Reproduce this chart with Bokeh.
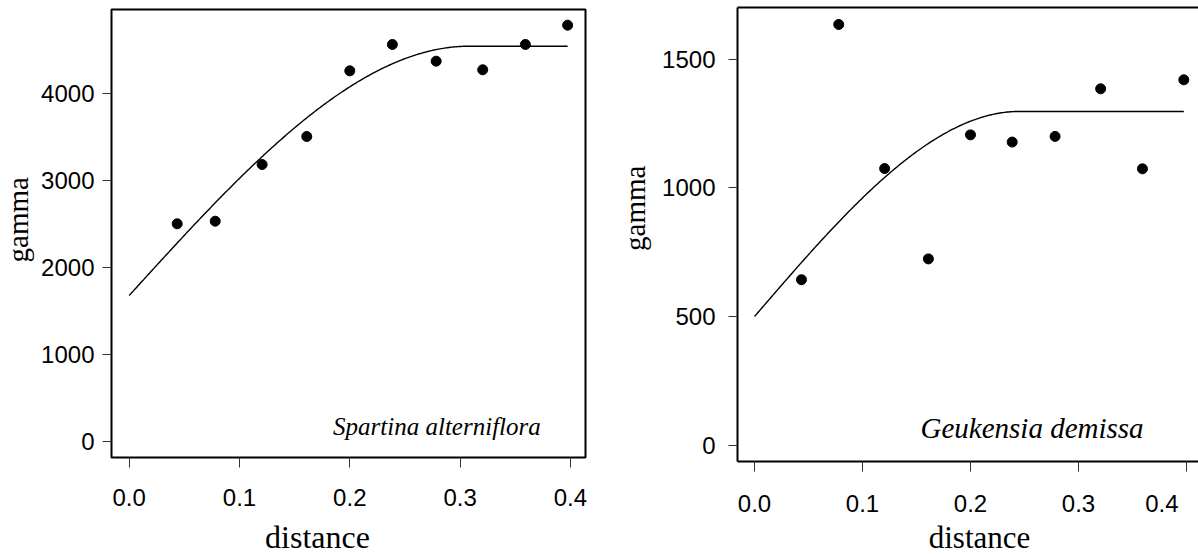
import numpy as np
from bokeh.plotting import figure
from bokeh.layouts import row, column
from bokeh.models import FixedTicker, PrintfTickFormatter, Label, LinearAxis, Range1d
from bokeh.core.properties import value
from bokeh.embed import file_html
from bokeh.resources import INLINE

# ---- data ----
distance = [0.0435, 0.078, 0.1205, 0.161, 0.2, 0.2386, 0.2783, 0.3205, 0.3592, 0.3975]
gamma_spartina = [2499, 2529, 3180, 3502, 4257, 4560, 4368, 4269, 4560, 4782]
gamma_geukensia = [643, 1635, 1075, 724, 1206, 1178, 1200, 1385, 1074, 1420]

# fitted spherical variogram models: nugget, sill, range
spartina_nugget, spartina_sill, spartina_range = 1675, 4540, 0.308
geukensia_nugget, geukensia_sill, geukensia_range = 500, 1297, 0.245

x_ticks = [0.0, 0.1, 0.2, 0.3, 0.4]
y_ticks_spartina = [0, 1000, 2000, 3000, 4000]
y_ticks_geukensia = [0, 500, 1000, 1500]

species_left = "Spartina alterniflora"
species_right = "Geukensia demissa"
x_label = "distance"
y_label = "gamma"


def spherical(h, nugget, sill, a):
    h = np.asarray(h, dtype=float)
    r = np.minimum(h / a, 1.0)
    return nugget + (sill - nugget) * (1.5 * r - 0.5 * r ** 3)


SANS = "Liberation Sans"
SERIF = "Liberation Serif"
PLOT_H = 520      # height of each plot figure
STRIP_H = 34      # height of the strip holding the x-axis title


def style_axes(p, x_standoff, y_standoff):
    p.grid.visible = False
    for ax in p.axis:
        ax.major_tick_in = 0
        ax.minor_tick_in = 0
        ax.minor_tick_out = 0
        ax.major_tick_line_color = "#333333"
        ax.major_tick_line_width = 1
        ax.major_label_text_font = SANS
        ax.major_label_text_font_size = "24px"
        ax.major_label_text_color = "black"
    p.xaxis.major_tick_out = 10
    p.yaxis.major_tick_out = 9
    p.xaxis.major_label_standoff = x_standoff
    p.yaxis.major_label_standoff = y_standoff
    p.xaxis.ticker = FixedTicker(ticks=x_ticks)
    p.xaxis.formatter = PrintfTickFormatter(format="%.1f")


def text_strip(width, height, x, y, text, size, angle=0.0):
    s = figure(width=width, height=height, output_backend="svg", toolbar_location=None,
               x_range=Range1d(0, width), y_range=Range1d(0, height),
               x_axis_type=None, y_axis_type=None,
               min_border_left=0, min_border_right=0, min_border_top=0, min_border_bottom=0)
    s.outline_line_color = None
    s.grid.visible = False
    s.text(x=[x], y=[y], text=[text], angle=angle, text_align="center",
           text_baseline="alphabetic", text_font=value(SERIF),
           text_font_size=value(size), text_color="black")
    return s


curve_h = np.linspace(0, max(distance), 300)

# ---------------- left panel ----------------
p1 = figure(width=565, height=PLOT_H, output_backend="svg", toolbar_location=None,
            x_range=Range1d(-0.01605, 0.4137), y_range=Range1d(-187, 4962),
            min_border_left=76, min_border_right=15, min_border_top=9, min_border_bottom=63)
p1.outline_line_color = "black"
p1.outline_line_width = 2
p1.outline_line_alpha = 1.0
style_axes(p1, 21, 8)
p1.axis.axis_line_color = None
p1.yaxis.ticker = FixedTicker(ticks=y_ticks_spartina)

p1.line(curve_h, spherical(curve_h, spartina_nugget, spartina_sill, spartina_range),
        line_color="black", line_width=1.4)
p1.scatter(distance, gamma_spartina, size=10, color="black")
p1.add_layout(Label(x=0.279, y=172, text=species_left, text_align="center",
                    text_baseline="alphabetic", text_font=SERIF, text_font_style="italic",
                    text_font_size="25px", text_color="black"))

g1 = text_strip(35, PLOT_H, 17, 276, y_label, "29px", np.pi / 2)
d1 = text_strip(600, STRIP_H, 317, 18, x_label, "32px")
left_block = column(row(g1, p1), d1)

# ---------------- right panel ----------------
p2 = figure(width=546, height=PLOT_H, output_backend="svg", toolbar_location=None,
            x_range=Range1d(-0.01574, 0.4111), y_range=Range1d(-63.4, 1701),
            min_border_left=85, min_border_right=0, min_border_top=7, min_border_bottom=59)
p2.outline_line_color = None
style_axes(p2, 18, 13)
p2.axis.axis_line_color = "black"
p2.axis.axis_line_width = 2
p2.yaxis.ticker = FixedTicker(ticks=y_ticks_geukensia)
p2.xaxis.major_label_overrides = {0.4: "0.4\u00a0\u00a0\u00a0"}

top_axis = LinearAxis(ticker=FixedTicker(ticks=[]), axis_line_color="black", axis_line_width=2,
                      major_tick_out=0, major_tick_in=0, minor_tick_out=0, minor_tick_in=0,
                      major_label_standoff=0, major_label_text_font_size="0px")
p2.add_layout(top_axis, "above")

p2.line(curve_h, spherical(curve_h, geukensia_nugget, geukensia_sill, geukensia_range),
        line_color="black", line_width=1.4)
p2.scatter(distance, gamma_geukensia, size=10, color="black")
p2.add_layout(Label(x=0.257, y=65, text=species_right, text_align="center",
                    text_baseline="alphabetic", text_font=SERIF, text_font_style="italic",
                    text_font_size="29px", text_color="black"))

g2 = text_strip(52, PLOT_H, 34, 290, y_label, "29px", np.pi / 2)
d2 = text_strip(598, STRIP_H, 379, 17, x_label, "31px")
right_block = column(row(g2, p2), d2)

layout = row(left_block, right_block)
open("out.html", "w").write(file_html(layout, INLINE))
